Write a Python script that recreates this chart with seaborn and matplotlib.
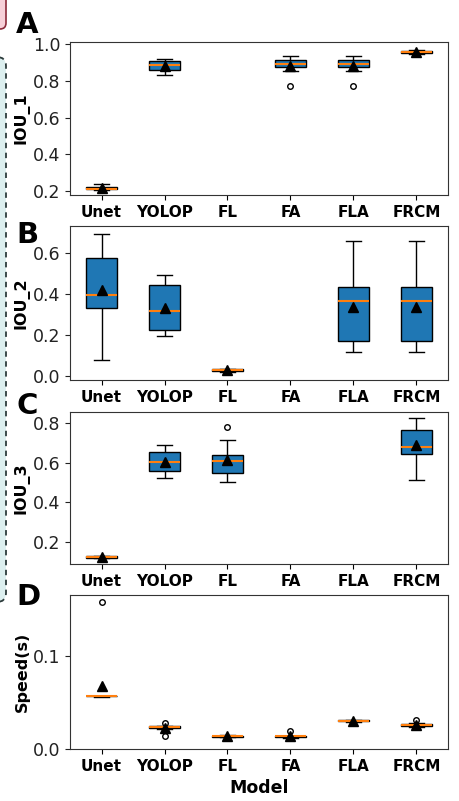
import pandas as pd
import matplotlib.pyplot as plt
import seaborn as sns
from matplotlib.patches import FancyBboxPatch

models = ["Unet", "YOLOP", "FL", "FA", "FLA", "FRCM"]

# IOU_1 samples per model (FL has no result)
iou1 = {
    "Unet": [0.207, 0.209, 0.21, 0.212, 0.214, 0.22, 0.222, 0.235, 0.24],
    "YOLOP": [0.831, 0.84, 0.86, 0.87, 0.883, 0.89, 0.905, 0.91, 0.917],
    "FA": [0.773, 0.85, 0.872, 0.88, 0.892, 0.9, 0.914, 0.925, 0.935],
    "FLA": [0.773, 0.85, 0.872, 0.88, 0.892, 0.9, 0.914, 0.925, 0.935],
    "FRCM": [0.945, 0.948, 0.95, 0.953, 0.956, 0.958, 0.96, 0.963, 0.968],
}

# IOU_2 samples (FA has no result)
iou2 = {
    "Unet": [0.077, 0.25, 0.33, 0.36, 0.396, 0.45, 0.576, 0.65, 0.693],
    "YOLOP": [0.195, 0.21, 0.222, 0.27, 0.317, 0.36, 0.442, 0.47, 0.492],
    "FL": [0.02, 0.022, 0.025, 0.027, 0.03, 0.031, 0.033, 0.034, 0.036],
    "FLA": [0.114, 0.14, 0.169, 0.25, 0.367, 0.4, 0.431, 0.49, 0.658],
    "FRCM": [0.114, 0.14, 0.169, 0.25, 0.367, 0.4, 0.431, 0.49, 0.658],
}

# IOU_3 samples (FA, FLA have no result)
iou3 = {
    "Unet": [0.118, 0.12, 0.121, 0.123, 0.125, 0.126, 0.128, 0.13, 0.132],
    "YOLOP": [0.521, 0.54, 0.556, 0.58, 0.603, 0.62, 0.653, 0.67, 0.69],
    "FL": [0.501, 0.53, 0.549, 0.59, 0.61, 0.625, 0.64, 0.713, 0.78],
    "FRCM": [0.513, 0.6, 0.645, 0.66, 0.68, 0.72, 0.765, 0.8, 0.823],
}

# Inference time in seconds
speed = {
    "Unet": [0.0565, 0.0567, 0.0568, 0.057, 0.057, 0.0572, 0.0573, 0.0575, 0.158],
    "YOLOP": [0.0137, 0.022, 0.0225, 0.023, 0.0235, 0.024, 0.0245, 0.025, 0.028],
    "FL": [0.0125, 0.013, 0.0133, 0.0136, 0.0138, 0.014, 0.0142, 0.0145, 0.015],
    "FA": [0.012, 0.0125, 0.013, 0.0133, 0.0136, 0.0139, 0.0142, 0.0145, 0.0199],
    "FLA": [0.029, 0.0295, 0.03, 0.0302, 0.0305, 0.0308, 0.031, 0.0312, 0.0315],
    "FRCM": [0.024, 0.0245, 0.025, 0.0255, 0.026, 0.0265, 0.027, 0.0275, 0.031],
}

panels = [
    ("A", "IOU_1", iou1, (0.18, 1.01), [0.2, 0.4, 0.6, 0.8, 1.0]),
    ("B", "IOU_2", iou2, (-0.02, 0.73), [0.0, 0.2, 0.4, 0.6]),
    ("C", "IOU_3", iou3, (0.09, 0.855), [0.2, 0.4, 0.6, 0.8]),
    ("D", "Speed(s)", speed, (0.0, 0.166), [0.0, 0.1]),
]

W, H = 460, 801
fig = plt.figure(figsize=(W / 100, H / 100), dpi=100)

# bits of neighbouring figure panels on the left edge
deco = fig.add_axes([0, 0, 1, 1], zorder=-5)
deco.set_xlim(0, W)
deco.set_ylim(H, 0)
deco.axis("off")
deco.add_patch(FancyBboxPatch((-20, -20), 26, 49, boxstyle="round,pad=0,rounding_size=6",
                              fc="#f7d0d8", ec="#8b2a3a", lw=1.2))
deco.add_patch(FancyBboxPatch((-20, 57), 26, 545, boxstyle="round,pad=0,rounding_size=9",
                              fc="#dcefef", ec="#2c3b3b", lw=1.3, ls=(0, (3, 2.5))))

# axes boxes in pixels: (top, bottom)
rows = [(42, 195), (226, 380), (412, 564), (595, 749)]
letter_base = [33, 243, 414, 605]
left, right = 70, 448

for (letter, ylab, data, ylim, ticks), (top, bot), lb in zip(panels, rows, letter_base):
    ax = fig.add_axes([left / W, 1 - bot / H, (right - left) / W, (bot - top) / H])
    df = pd.DataFrame([(m, v) for m, vals in data.items() for v in vals], columns=["Model", "value"])
    sns.boxplot(data=df, x="Model", y="value", order=models, ax=ax,
                width=0.5, color="#1f77b4", saturation=1, linecolor="black", linewidth=1,
                showmeans=True,
                meanprops=dict(marker="^", markerfacecolor="black", markeredgecolor="black", markersize=7),
                medianprops=dict(color="#ff7f0e", linewidth=1.5),
                flierprops=dict(marker="o", markerfacecolor="none", markeredgecolor="black",
                                markersize=4, markeredgewidth=1))
    ax.set_xlim(-0.5, 5.5)
    ax.set_ylim(*ylim)
    ax.set_yticks(ticks)
    ax.set_yticklabels([f"{t:.1f}" for t in ticks])
    ax.tick_params(axis="y", labelsize=12.5, colors="#222222")
    ax.tick_params(axis="x", labelsize=11)
    for t in ax.get_xticklabels():
        t.set_fontweight("bold")
    ax.set_ylabel(ylab, fontsize=11.5, fontweight="bold", labelpad=2)
    if letter == "D":
        ax.set_xlabel("Model", fontsize=12.5, fontweight="bold")
    else:
        ax.set_xlabel("")
    for s in ax.spines.values():
        s.set_color("#333333")
    fig.text(16 / W, 1 - lb / H, letter, fontsize=21, fontweight="bold", va="baseline")

plt.savefig("out.png", dpi=100)
